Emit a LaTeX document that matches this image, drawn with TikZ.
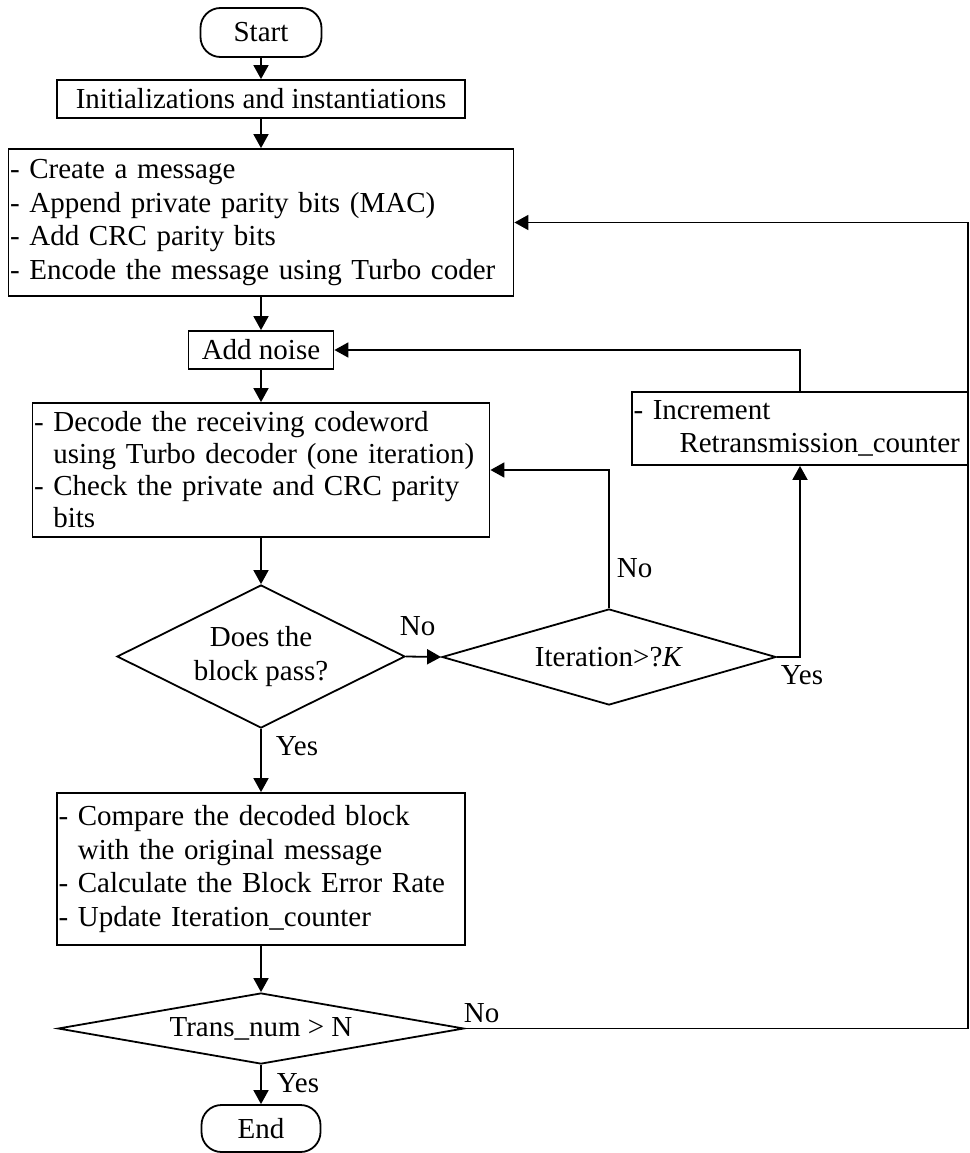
\documentclass[tikz,border=0pt]{standalone}
\usepackage{fontspec}
\setmainfont{Liberation Serif}
\usetikzlibrary{shapes.geometric,arrows.meta}

\begin{document}
\begin{tikzpicture}[x=1pt,y=-1pt,
  every node/.style={font=\fontsize{29pt}{33.5pt}\selectfont},
  line width=1.8pt,
  proc/.style={draw, rectangle, inner xsep=1.5pt, inner ysep=0pt, align=left},
  term/.style={draw, rectangle, rounded corners=20pt, inner sep=0pt},
  decision/.style={draw, diamond, inner sep=0pt, align=center},
  flow/.style={-{Triangle[length=14pt,width=15pt]}},
  tag/.style={inner sep=0pt, anchor=base west}
]
\useasboundingbox (0,0) rectangle (969,1153);

% main column
\node[term, minimum width=121pt, minimum height=49pt] (start) at (261,32.5) {Start};
\node[proc, align=center, minimum width=408pt, minimum height=38pt] (init) at (261,99)
  {Initializations and instantiations};
\node[proc, minimum width=505pt, minimum height=147pt, text width=502pt] (create) at (261,222.5)
  {- Create a message\\- Append private parity bits (MAC)\\- Add CRC parity bits\\- Encode the message using Turbo coder};
\node[proc, align=center, minimum width=145pt, minimum height=38pt] (noise) at (261,350) {Add noise};
\node[proc, minimum width=457pt, minimum height=134pt, text width=454pt,
      font=\fontsize{29pt}{32pt}\selectfont] (decode) at (261,470)
  {- Decode the receiving codeword\\\hphantom{-}\ using Turbo decoder (one iteration)\\- Check the private and CRC parity\\\hphantom{-}\ bits};
\node[decision, minimum width=288pt, minimum height=143pt, aspect=2] (pass) at (261,656.5)
  {Does the\\block pass?};
\node[decision, minimum width=334pt, minimum height=96pt, aspect=3.5] (iter) at (609,657)
  {Iteration>?\textit{K}};
\node[proc, minimum width=336pt, minimum height=73pt, text width=333pt] (incr) at (800,428.5)
  {- Increment\\\hspace*{46pt}Retransmission\_counter};
\node[proc, minimum width=408pt, minimum height=152pt, text width=405pt] (compare) at (261,869)
  {- Compare the decoded block\\\hphantom{-}\ with the original message\\- Calculate the Block Error Rate\\- Update Iteration\_counter};
\node[decision, minimum width=406pt, minimum height=71pt, aspect=5.7] (trans) at (261,1028.5)
  {Trans\_num > N};
\node[term, minimum width=119pt, minimum height=47pt] (end) at (261,1128.5) {End};

\coordinate (redge) at (968,0);

% connectors
\draw[flow] (start) -- (init);
\draw[flow] (init) -- (create);
\draw[flow] (create) -- (noise);
\draw[flow] (noise) -- (decode);
\draw[flow] (decode) -- (pass);
\draw[flow] (pass.east) -- (iter.west);
\draw[flow] (iter.north) |- (decode.east);
\draw[flow] (iter.east) -| (incr.south);
\draw[flow] (incr.north) |- (noise.east);
\draw[flow] (pass.south) -- (compare.north);
\draw[flow] (compare) -- (trans);
\draw[flow] (trans.south) -- (end.north);
\draw[flow] (trans.east) -- (trans.east -| redge) |- (create.east);

% branch labels
\node[tag] (lnoA) at (399,635) {No};
\node[tag] (lnoB) at (616,577) {No};
\node[tag] (lyesA) at (780,684) {Yes};
\node[tag] (lyesB) at (275,755) {Yes};
\node[tag] (lnoC) at (463,1022) {No};
\node[tag] (lyesC) at (276,1092) {Yes};
\end{tikzpicture}
\end{document}
